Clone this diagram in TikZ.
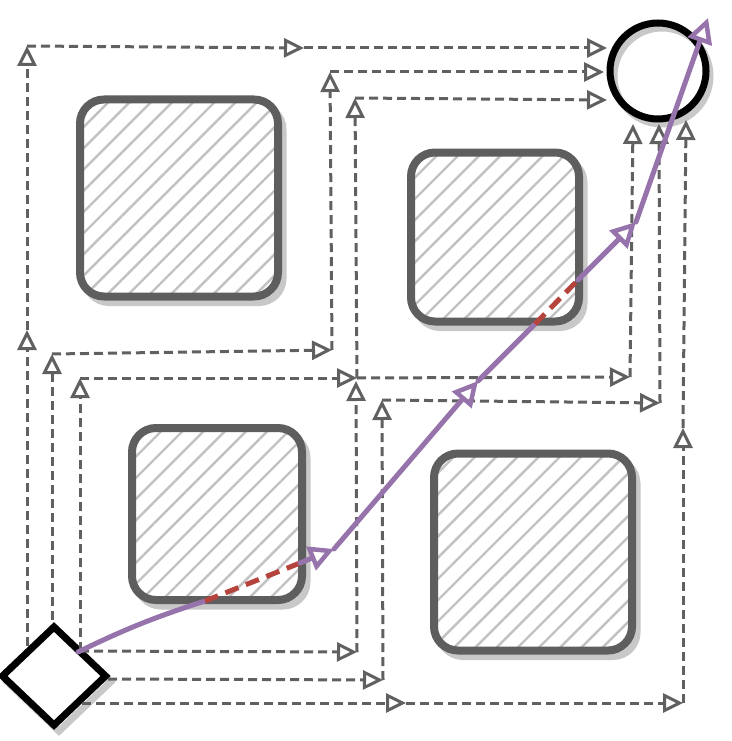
\documentclass[tikz,border=0pt]{standalone}
\usepackage{tikz}
\usetikzlibrary{arrows.meta, shapes.geometric, positioning, patterns.meta}
\definecolor{pathgrey}{HTML}{606060}
\definecolor{boxgrey}{HTML}{5E5E5E}
\definecolor{hatchgrey}{HTML}{C2C2C2}
\definecolor{shadegrey}{HTML}{C8C8C8}
\definecolor{newpurple}{HTML}{9673AA}
\definecolor{newred}{HTML}{B5443D}
\newcommand{\route}[2]
{
	\draw[route] (#1) -- (#2)
}
\newcommand{\obstacle}[5]
{
	\node[obstshade, minimum width=#4, minimum height=#5] (#1s) at (#2+5,#3+6) {};
	\node[obst, minimum width=#4, minimum height=#5] (#1) at (#2,#3) {};
}

\begin{document}
\begin{tikzpicture}[x=1pt, y=-1pt,
	route/.style={draw=pathgrey, line width=3pt, dash pattern=on 9pt off 5pt,
		-{Triangle[open, length=20pt, width=19pt, line width=3pt]}},
	obst/.style={rectangle, draw=boxgrey, line width=8pt, rounded corners=24pt,
		inner sep=0pt, outer sep=0pt, preaction={fill=white},
		pattern={Lines[angle=45, distance=15pt, line width=2.4pt]}, pattern color=hatchgrey},
	obstshade/.style={rectangle, draw=shadegrey, line width=7pt, rounded corners=24pt,
		inner sep=0pt, outer sep=0pt},
	walk/.style={draw=newpurple, line width=5pt, line cap=round},
	walkarrow/.style={walk, -{Triangle[open, length=25pt, width=25pt, line width=4.5pt]}},
	hit/.style={draw=newred, line width=5pt, dash pattern=on 14pt off 8pt}]

	\useasboundingbox (0,0) rectangle (731,741);

	% obstacles
	\obstacle{O1}{179}{198}{198}{197}
	\obstacle{O2}{495}{237}{168}{169}
	\obstacle{O3}{217}{514}{170}{172}
	\obstacle{O4}{533}{552}{198}{197}

	% start and goal
	\node[diamond, draw=shadegrey, line width=7pt, minimum width=106pt, minimum height=101pt, inner sep=0pt] (Ss) at (59,682) {};
	\node[diamond, draw=black, fill=white, line width=7pt, minimum width=106pt, minimum height=101pt, inner sep=0pt] (S) at (54,676) {};
	\node[circle, draw=shadegrey, line width=7pt, minimum size=96pt, inner sep=0pt] (Gs) at (662,76) {};
	\node[circle, draw=black, line width=7pt, minimum size=96pt, inner sep=0pt] (G) at (658,71) {};

	% route corners
	\coordinate (p0) at (27,646);
	\coordinate (p1) at (27,330);
	\coordinate (p2) at (27,46);
	\coordinate (p3) at (304,48);
	\coordinate (g1) at (607,48);

	\coordinate (q0) at (52,620);
	\coordinate (q1) at (52,354);
	\coordinate (q2) at (332,350);
	\coordinate (q3) at (330,72);
	\coordinate (g2) at (604,72);

	\coordinate (r0) at (80,651);
	\coordinate (r1) at (80,378);
	\coordinate (r2) at (357,378);
	\coordinate (r2b) at (356,381);
	\coordinate (r3) at (355,98);
	\coordinate (g3) at (607,100);
	\coordinate (r5) at (357,652);
	\coordinate (r6) at (630,377);
	\coordinate (g4) at (633,124);

	\coordinate (t0) at (108,679);
	\coordinate (t1) at (383,680);
	\coordinate (t2) at (382,400);
	\coordinate (t3) at (660,403);
	\coordinate (g5) at (659,124);

	\coordinate (u0) at (82,703);
	\coordinate (u1) at (406,703);
	\coordinate (u2) at (683,703);
	\coordinate (u3) at (683,428);
	\coordinate (g6) at (686,120);

	\route{p0}{p1};
	\route{p1}{p2};
	\route{p2}{p3};
	\route{p3}{g1};

	\route{q0}{q1};
	\route{q1}{q2};
	\route{q2}{q3};
	\route{q3}{g2};

	\route{r0}{r1};
	\route{r1}{r2};
	\route{r2}{r3};
	\route{r3}{g3};
	\route{r0}{r5};
	\route{r5}{r2b};
	\route{r2}{r6};
	\route{r6}{g4};

	\route{t0}{t1};
	\route{t1}{t2};
	\route{t2}{t3};
	\route{t3}{g5};

	\route{u0}{u1};
	\route{u1}{u2};
	\route{u2}{u3};
	\route{u3}{g6};

	% chosen path
	\coordinate (k0) at (78,652);
	\coordinate (k1) at (205,601);
	\coordinate (k2) at (300,563);
	\coordinate (m1) at (334,549);
	\coordinate (m2) at (478,381);
	\coordinate (n1) at (535,324);
	\coordinate (n2) at (578,280);
	\coordinate (m3) at (636,222);
	\coordinate (m4) at (708,18);

	\draw[walk] (k0) to[bend left=4] (k1);
	\draw[hit] (k1) -- (k2);
	\draw[walkarrow] (k2) -- (m1);
	\draw[walkarrow] (m1) -- (m2);
	\draw[walk] (m2) -- (n1);
	\draw[hit] (n1) -- (n2);
	\draw[walkarrow] (n2) -- (m3);
	\draw[walkarrow] (m3) -- (m4);
\end{tikzpicture}
\end{document}
